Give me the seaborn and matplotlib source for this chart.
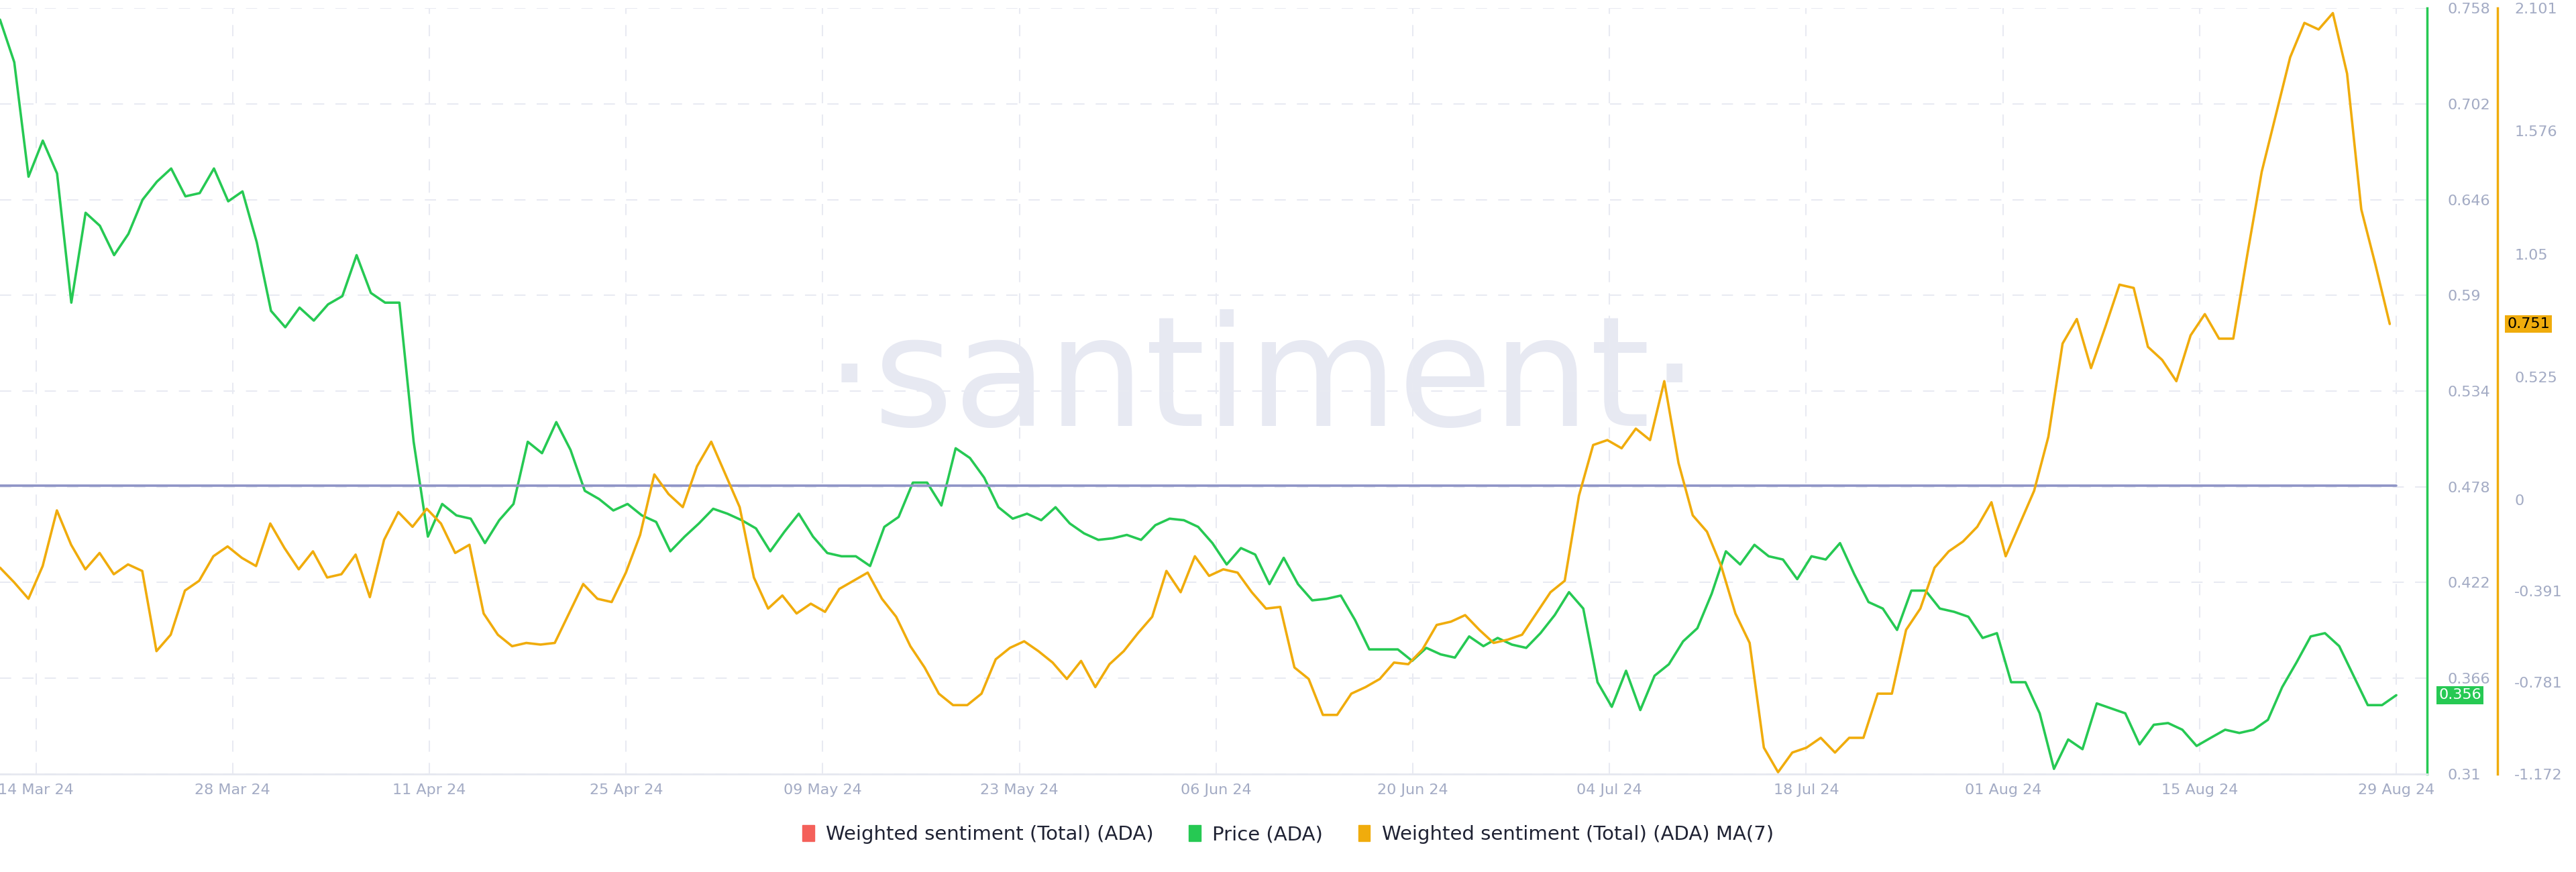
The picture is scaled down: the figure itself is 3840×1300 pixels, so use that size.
import matplotlib
matplotlib.use("Agg")
import matplotlib.pyplot as plt
import seaborn as sns
import pandas as pd
import numpy as np
from matplotlib.patches import Patch

sns.set_theme(style="white")
plt.rcParams['font.family'] = ['DejaVu Sans']

price_px = [12,38,108,86,106,185,130,138,156,143,122,111,103,120,118,103,123,117,148,190,200,188,196,186,181,156,179,185,185,270,328,308,315,317,332,318,308,270,277,258,275,300,305,312,308,315,319,337,328,320,311,314,318,323,337,325,314,328,338,340,340,346,322,316,295,295,309,274,280,292,310,317,314,318,310,320,326,330,329,327,330,321,317,318,322,332,345,335,339,357,341,357,367,366,364,379,397,397,397,404,396,400,402,389,395,390,394,396,387,376,362,372,417,432,410,434,413,406,392,384,363,337,345,333,340,342,354,340,342,332,351,368,372,385,361,361,372,374,377,390,387,417,417,436,470,452,458,430,433,436,455,443,442,446,456,451,446,448,446,440,420,405,389,387,395,413,431,431,425]
sent_px = [347,356,366,346,312,333,348,338,351,345,349,398,388,361,355,340,334,341,346,320,335,348,337,353,351,339,365,330,313,322,311,320,338,333,375,388,395,393,394,393,375,357,366,368,350,327,290,302,310,285,270,290,310,353,372,364,375,369,374,360,355,350,366,377,395,408,424,431,431,424,403,396,392,398,405,415,404,420,406,398,387,377,349,362,340,352,348,350,362,372,371,408,415,437,437,424,420,415,405,406,397,382,380,376,385,393,391,388,375,362,355,303,272,269,274,262,269,233,283,315,325,346,375,393,457,472,460,457,451,460,451,451,424,424,385,372,347,337,331,322,307,340,320,300,267,210,195,225,200,174,176,212,220,233,205,192,207,207,155,105,70,35,14,18,8,45,128,162,198]
# values
price = [round(0.758 - (p - 5) * 0.448 / 468, 4) for p in price_px]
sentiment_ma7 = [round(2.101 - (p - 5) * 3.273 / 468, 4) for p in sent_px]
price[-1] = 0.356
sentiment_ma7[-1] = 0.751

ppd = 1443 / 168.0
start = pd.Timestamp("2024-03-14") - pd.Timedelta(days=22 / ppd)
price_dates = pd.date_range(start=start, end="2024-08-29", periods=len(price))
sent_dates = pd.date_range(start=start, end=pd.Timestamp("2024-08-29") - pd.Timedelta(days=4 / ppd),
                           periods=len(sentiment_ma7))
tick_dates = pd.date_range("2024-03-14", "2024-08-29", freq="14D")
tick_labels = [d.strftime("%d %b %y") for d in tick_dates]
price_ticks = [0.31, 0.366, 0.422, 0.478, 0.534, 0.59, 0.646, 0.702, 0.758]
sent_ticks = [-1.172, -0.781, -0.391, 0, 0.525, 1.05, 1.576, 2.101]
sent_tick_labels = ["-1.172", "-0.781", "-0.391", "0", "0.525", "1.05", "1.576", "2.101"]
baseline = 0.4785

GREEN = "#26c953"
ORANGE = "#f0ac0c"
TICKC = "#a3abc4"

fig = plt.figure(figsize=(38.4, 13), dpi=100)
ax = fig.add_axes([0.0, 0.1126, 0.9423, 0.878])
ax2 = ax.twinx()

dfp = pd.DataFrame({"date": price_dates, "price": price})
dfs = pd.DataFrame({"date": sent_dates, "s": sentiment_ma7})
sns.lineplot(data=dfp, x="date", y="price", ax=ax, color=GREEN, lw=2.6)
sns.lineplot(data=dfs, x="date", y="s", ax=ax2, color=ORANGE, lw=2.6)
ax.plot([price_dates[0], price_dates[-1]], [baseline, baseline], color="#8e94c6", lw=2.6, zorder=3)

xmin = start
xmax = pd.Timestamp("2024-08-29") + pd.Timedelta(days=19 / ppd)
ax.set_xlim(xmin, xmax)
ax.set_ylim(0.31, 0.758)
ax2.set_ylim(-1.172, 2.101)

ax.set_xticks(tick_dates)
ax.set_xticklabels(tick_labels)
ax.yaxis.tick_right()
ax.set_yticks(price_ticks)
ax.set_yticklabels([f"{t:g}" for t in price_ticks])
ax2.set_yticks(sent_ticks)
ax2.set_yticklabels(sent_tick_labels)
ax.tick_params(axis="y", length=0, pad=22, labelsize=16, labelcolor=TICKC)
ax.tick_params(axis="x", length=0, pad=10, labelsize=16, labelcolor=TICKC)
ax2.tick_params(axis="y", length=0, pad=18, labelsize=16, labelcolor=TICKC)
ax.set_xlabel(""); ax.set_ylabel(""); ax2.set_ylabel("")

for sp in ["top", "left"]:
    ax.spines[sp].set_visible(False)
    ax2.spines[sp].set_visible(False)
ax.spines["bottom"].set_color("#e6e8f0"); ax.spines["bottom"].set_linewidth(2)
ax2.spines["bottom"].set_visible(False)
ax.spines["right"].set_color(GREEN); ax.spines["right"].set_linewidth(2.5)
ax2.spines["right"].set_position(("axes", 1.029))
ax2.spines["right"].set_color(ORANGE); ax2.spines["right"].set_linewidth(2.5)

ax.grid(True, axis="both", color="#e8eaf2", ls=(0, (8, 8)), lw=1.5)
ax.set_axisbelow(True)

ax.text(0.52, 0.51, "·santiment·", transform=ax.transAxes, fontsize=165, color="#e7e9f2",
        ha="center", va="center", zorder=0)

ax.annotate("0.356", xy=(1, 0.356), xycoords=("axes fraction", "data"), xytext=(12, 0),
            textcoords="offset points", fontsize=16, color="white", va="center", ha="left",
            bbox=dict(boxstyle="square,pad=0.15", fc=GREEN, ec="none"))
ax2.annotate("0.751", xy=(1.029, 0.751), xycoords=("axes fraction", "data"), xytext=(10, 0),
             textcoords="offset points", fontsize=16, color="black", va="center", ha="left",
             bbox=dict(boxstyle="square,pad=0.15", fc=ORANGE, ec="none"))

handles = [Patch(color="#f4605a"), Patch(color=GREEN), Patch(color=ORANGE)]
labels = ["Weighted sentiment (Total) (ADA)", "Price (ADA)", "Weighted sentiment (Total) (ADA) MA(7)"]
fig.legend(handles, labels, loc="center", bbox_to_anchor=(0.5, 0.043), ncol=3, frameon=False,
           fontsize=21, handlelength=0.6, handleheight=0.9, columnspacing=1.8, handletextpad=0.6,
           labelcolor="#1f2233")

fig.savefig("out.png", dpi=100)
